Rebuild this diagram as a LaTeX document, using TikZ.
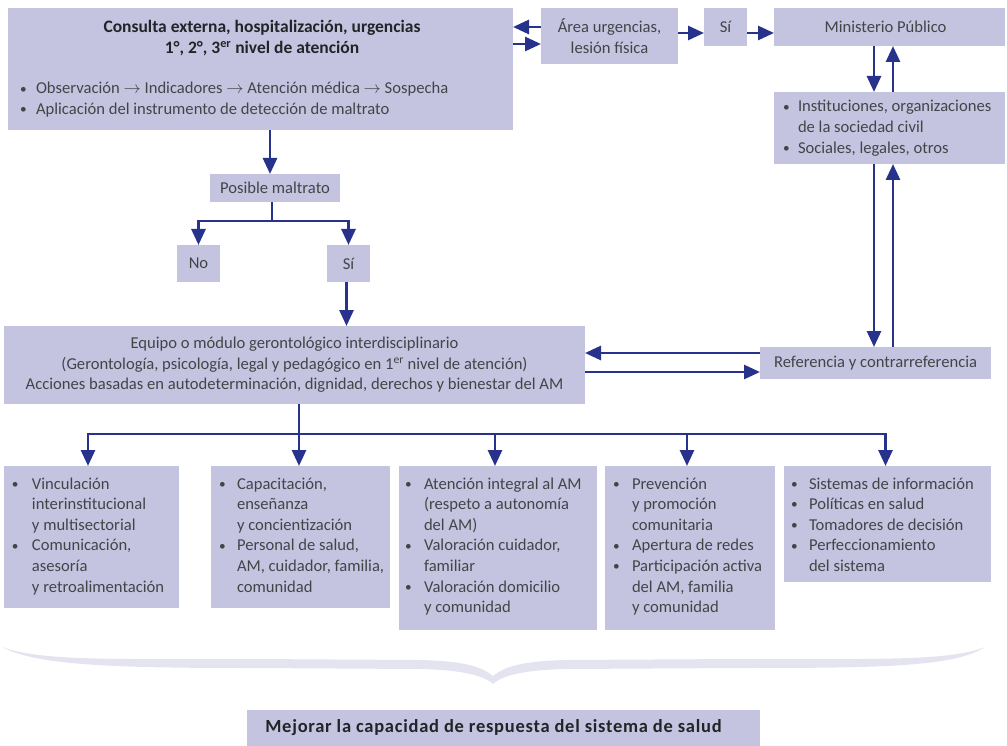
\documentclass[tikz,border=0pt]{standalone}
\usepackage{fontspec}
\setmainfont{Carlito}
\usetikzlibrary{arrows.meta,calc}
\definecolor{boxc}{RGB}{196,196,224}
\definecolor{arrc}{RGB}{38,50,140}
\definecolor{txtc}{RGB}{68,68,72}
\definecolor{bracec}{RGB}{228,228,241}
\definecolor{darkt}{RGB}{35,35,40}
\newcommand\bfs{\fontsize{16.6}{20.6}\selectfont}
\newcommand\ttfs{\fontsize{17.5}{20.3}\selectfont}
\newcommand\arw{$\rightarrow$}
\newcommand\bu{\raisebox{0.1ex}{\scalebox{0.8}{\textbullet}}}
\newcommand\bx[7][]{\node[box,minimum width={#4-#2},minimum height={#5-#3},#1] (#6) at ({(#2+#4)/2},{(#3+#5)/2}) {#7};}
\begin{document}
\begin{tikzpicture}[x=1pt,y=-1pt,font=\bfs,text=txtc,
  box/.style={fill=boxc,inner sep=0pt,outer sep=0pt},
  lst/.style={inner sep=0pt,outer sep=0pt,anchor=base west},
  ttl/.style={inner sep=0pt,outer sep=0pt,anchor=base},
  arr/.style={draw=arrc,line width=2.8pt,-{Triangle[length=16pt,width=14pt]}},
  ln/.style={draw=arrc,line width=2.8pt}]
\useasboundingbox (0,0) rectangle (1007,746);
% brace
\fill[bracec] (2,647) .. controls (40,661) and (110,659) .. (250,659) -- (420,660)
  .. controls (465,661) and (482,667) .. (493,676)
  .. controls (504,667) and (521,661) .. (566,660) -- (740,659)
  .. controls (880,659) and (950,661) .. (985,647)
  .. controls (955,667) and (880,668) .. (740,668) -- (566,669)
  .. controls (525,670) and (503,675) .. (493,684)
  .. controls (483,675) and (461,670) .. (420,669) -- (250,668)
  .. controls (110,668) and (35,665) .. (2,647) -- cycle;
% boxes
\bx{8}{8}{513}{130}{top}{}
\bx[align=center]{541}{8}{678}{64}{area}{Área urgencias,\\lesión física}
\bx{704}{8}{747}{46}{si1}{Sí}
\bx{774}{8}{1005}{46}{min}{\hspace*{-8pt}Ministerio Público}
\bx{774}{92}{1005}{164}{inst}{}
\bx{210}{174}{340}{202}{pos}{Posible maltrato}
\bx{177}{245}{220}{282}{no}{No}
\bx{327}{245}{370}{282}{si2}{Sí}
\bx[align=center]{4}{326}{585}{404}{eq}{Equipo o módulo gerontológico interdisciplinario\\(Gerontología, psicología, legal y pedagógico en 1\textsuperscript{er} nivel de atención)\\Acciones basadas en autodeterminación, dignidad, derechos y bienestar del AM}
\bx{760}{347}{991}{379}{ref}{Referencia y contrarreferencia}
\bx{4}{466}{179}{608}{b1}{}
\bx{211}{466}{390}{608}{b2}{}
\bx{399}{466}{597}{630}{b3}{}
\bx{605}{466}{775}{630}{b4}{}
\bx{784}{466}{991}{582}{b5}{}
\bx[font={\fontsize{18.5}{20}\selectfont\bfseries\addfontfeatures{LetterSpace=4}},text=darkt]{247}{710}{760}{746}{mej}{\hspace*{-20pt}Mejorar la capacidad de respuesta del sistema de salud}
% texts
\node[ttl,font=\ttfs\bfseries,text=darkt] (toptitle) at (262,33) {\begin{tabular}[t]{@{}c@{}}Consulta externa, hospitalización, urgencias\\1°, 2°, 3\textsuperscript{er} nivel de atención\end{tabular}};
\node[lst] (toplist) at (20,94) {\begin{tabular}[t]{@{}p{16pt}@{}l@{}}\bu & Observación \arw{} Indicadores \arw{} Atención médica \arw{} Sospecha\\ \bu & Aplicación del instrumento de detección de maltrato\end{tabular}};
\node[lst] (instlist) at (783,112) {\begin{tabular}[t]{@{}p{15pt}@{}l@{}}\bu & Instituciones, organizaciones\\ & de la sociedad civil\\ \bu & Sociales, legales, otros\end{tabular}};
\node[lst] (l1) at (12,489) {\begin{tabular}[t]{@{}p{20pt}@{}l@{}}\bu & Vinculación\\ & interinstitucional\\ & y multisectorial\\ \bu & Comunicación,\\ & asesoría\\ & y retroalimentación\end{tabular}};
\node[lst] (l2) at (219,489) {\begin{tabular}[t]{@{}p{18pt}@{}l@{}}\bu & Capacitación,\\ & enseñanza\\ & y concientización\\ \bu & Personal de salud,\\ & AM, cuidador, familia,\\ & comunidad\end{tabular}};
\node[lst] (l3) at (405,489) {\begin{tabular}[t]{@{}p{19pt}@{}l@{}}\bu & Atención integral al AM\\ & (respeto a autonomía\\ & del AM)\\ \bu & Valoración cuidador,\\ & familiar\\ \bu & Valoración domicilio\\ & y comunidad\end{tabular}};
\node[lst] (l4) at (613,489) {\begin{tabular}[t]{@{}p{19pt}@{}l@{}}\bu & Prevención\\ & y promoción\\ & comunitaria\\ \bu & Apertura de redes\\ \bu & Participación activa\\ & del AM, familia\\ & y comunidad\end{tabular}};
\node[lst] (l5) at (791,489) {\begin{tabular}[t]{@{}p{18pt}@{}l@{}}\bu & Sistemas de información\\ \bu & Políticas en salud\\ \bu & Tomadores de decisión\\ \bu & Perfeccionamiento\\ & del sistema\end{tabular}};
% connectors
\coordinate (a1) at ($(area.west)+(0,-9)$);
\draw[arr] (a1) -- (a1 -| top.east);
\coordinate (a2) at ($(area.west)+(0,8)$);
\draw[arr] (a2 -| top.east) -- (a2);
\coordinate (a3) at ($(area.east)+(0,-3)$);
\draw[arr] (a3) -- (a3 -| si1.west);
\draw[arr] (a3 -| si1.east) -- (a3 -| min.west);
\coordinate (m1) at ($(min.south)+(-15.5,0)$);
\coordinate (m2) at ($(min.south)+(3.5,0)$);
\draw[arr] (m1) -- (m1 |- inst.north);
\draw[arr] (m2 |- inst.north) -- (m2);
\draw[arr] (m1 |- inst.south) -- (m1 |- ref.north);
\draw[arr] (m2 |- ref.north) -- (m2 |- inst.south);
\coordinate (r1) at ($(ref.west)+(0,-10)$);
\coordinate (r2) at ($(ref.west)+(0,9)$);
\draw[arr] (r1) -- (r1 -| eq.east);
\draw[arr] (r2 -| eq.east) -- (r2);
\coordinate (t1) at ($(top.south)+(9.5,0)$);
\draw[arr] (t1) -- (t1 |- pos.north);
\coordinate (p1) at ($(pos.south)+(-3,0)$);
\coordinate (p2) at ($(p1)+(0,19)$);
\draw[ln] (p1) -- (p2);
\draw[arr] (p2) -| (no.north);
\draw[arr] (p2) -| (si2.north);
\coordinate (s1) at ($(si2.south)+(-2,0)$);
\draw[arr] (s1) -- (s1 |- eq.north);
\coordinate (e1) at ($(eq.south)+(4.5,0)$);
\coordinate (e2) at ($(e1)+(0,30)$);
\draw[ln] (e1) -- (e2);
\draw[arr] (e2) -| ($(b1.north)+(-3.5,0)$);
\draw[arr] (e2) -- (e2 |- b2.north);
\draw[arr] (e2) -| ($(b3.north)+(-3,0)$);
\draw[arr] (e2) -| ($(b4.north)+(-3,0)$);
\draw[arr] (e2) -| ($(b5.north)+(-2,0)$);
\end{tikzpicture}
\end{document}
